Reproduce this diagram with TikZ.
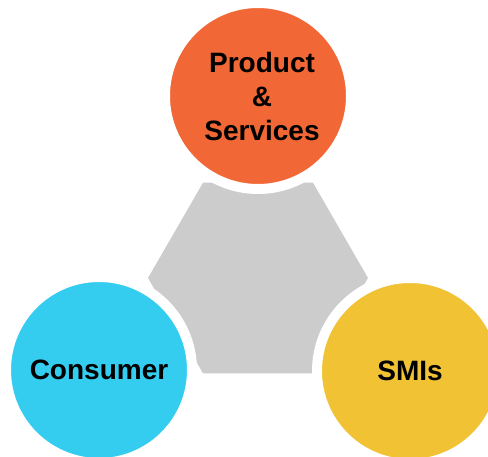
\documentclass[tikz,border=0pt]{standalone}
\usepackage{fontspec}
\setmainfont{Liberation Sans}
\usetikzlibrary{shapes.geometric, positioning}

\definecolor{prodorange}{RGB}{241,103,53}
\definecolor{consblue}{RGB}{52,205,240}
\definecolor{smiyellow}{RGB}{240,194,52}
\definecolor{coregray}{RGB}{204,204,204}

\begin{document}
\begin{tikzpicture}[
                x=1pt, y=1pt,
                every node/.style={font=\fontsize{28}{34}\selectfont\bfseries},
                core/.style={regular polygon, regular polygon sides=6, minimum size=220pt, inner sep=0pt, fill=coregray},
                bubble/.style={circle, minimum size=186pt, inner sep=0pt, draw=white, line width=10pt, align=center}
            ]
                \useasboundingbox (0,0) rectangle (488,-457);

                % Nodes
                \node (hub) [core] at (258,-278) {};
                \node (product) [bubble, fill=prodorange] at (258,-96) {\hspace{8pt}Product\\\hspace{8pt}\&\\\hspace{8pt}Services};
                \node (consumer) [bubble, fill=consblue] at (99,-370) {Consumer};
                \node (smis) [bubble, fill=smiyellow] at (410,-371) {SMIs};

            \end{tikzpicture}
\end{document}
